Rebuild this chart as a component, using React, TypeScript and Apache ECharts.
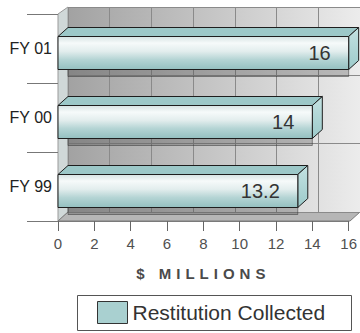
import React, { useEffect, useRef } from "react";
import * as echarts from "echarts";

// Fiscal years, bottom to top, and the amount collected in each ($ millions)
const categories = ["FY 99", "FY 00", "FY 01"];
const restitution = [13.2, 14, 16];
const seriesName = "Restitution Collected";
const axisTitle = "$ MILLIONS";

// value axis range
const xMin = 0;
const xMax = 16;
const xStep = 2;
// the back wall is ruled in seven panels
const wallMax = 14;

const FONT = "'Liberation Sans', Arial, Helvetica, sans-serif";
const DX = 10; // depth offset of the 3D box, horizontal
const DY = 9; // depth offset of the 3D box, vertical

export default function App() {
  const ref = useRef<HTMLDivElement>(null);

  useEffect(() => {
    const el = ref.current!;
    const chart = echarts.init(el, null, { renderer: "svg" });

    const frontFill = new echarts.graphic.LinearGradient(0, 0, 0, 1, [
      { offset: 0, color: "#d6e3e3" },
      { offset: 0.2, color: "#f6fafa" },
      { offset: 0.45, color: "#e2eded" },
      { offset: 0.7, color: "#b4d4d4" },
      { offset: 1, color: "#94c0c0" },
    ]);
    const sideFill = new echarts.graphic.LinearGradient(0, 0, 0, 1, [
      { offset: 0, color: "#c4e2e2" },
      { offset: 1, color: "#9ccaca" },
    ]);
    const wallFill = new echarts.graphic.LinearGradient(0, 0, 1, 0, [
      { offset: 0, color: "#a2a2a2" },
      { offset: 0.5, color: "#c6c6c6" },
      { offset: 1, color: "#ececec" },
    ]);

    const renderBar = (params: any, api: any) => {
      const v = api.value(0);
      const idx = api.value(1);
      const start = api.coord([xMin, idx]);
      const end = api.coord([v, idx]);
      const x0 = start[0];
      const x1 = end[0];
      const cy = end[1];
      const top = cy - 12;
      const bottom = cy + 21;
      const stroke = "#1e1e1e";
      return {
        type: "group",
        children: [
          {
            type: "rect",
            shape: { x: x0 + DX, y: top + 7, width: x1 - x0 - DX, height: bottom - top },
            style: { fill: "rgba(60,60,60,0.28)", stroke: "rgba(50,50,50,0.5)", lineWidth: 1 },
          },
          {
            type: "polygon",
            shape: {
              points: [
                [x0, top],
                [x0 + DX, top - DY],
                [x1 + DX, top - DY],
                [x1, top],
              ],
            },
            style: { fill: "#9cc8c8", stroke, lineWidth: 1 },
          },
          {
            type: "polygon",
            shape: {
              points: [
                [x1, top],
                [x1 + DX, top - DY],
                [x1 + DX, bottom - DY],
                [x1, bottom],
              ],
            },
            style: { fill: sideFill, stroke, lineWidth: 1 },
          },
          {
            type: "rect",
            shape: { x: x0, y: top, width: x1 - x0, height: bottom - top },
            style: { fill: frontFill, stroke, lineWidth: 1 },
          },
          {
            type: "text",
            x: x1 - 18,
            y: (top + bottom) / 2,
            style: {
              text: String(v),
              align: "right",
              verticalAlign: "middle",
              fontFamily: FONT,
              fontSize: 20,
              fill: "#333333",
            },
          },
        ],
      };
    };

    chart.setOption({
      animation: false,
      backgroundColor: "#ffffff",
      grid: [
        { left: 58, right: 10, top: 14, bottom: 112 },
        {
          left: 68,
          top: 7,
          width: 292,
          height: 205,
          show: true,
          backgroundColor: wallFill,
          borderWidth: 0,
        },
      ],
      xAxis: [
        {
          type: "value",
          gridIndex: 0,
          min: xMin,
          max: xMax,
          interval: xStep,
          splitLine: { show: false },
          axisLine: { show: true, lineStyle: { color: "#7a7a7a" } },
          axisTick: { show: true, length: 10, lineStyle: { color: "#666666" } },
          axisLabel: { margin: 15, fontFamily: FONT, fontSize: 15, color: "#505050" },
          name: axisTitle,
          nameLocation: "middle",
          nameGap: 45,
          nameTextStyle: {
            fontFamily: FONT,
            fontSize: 15,
            fontWeight: "bold",
            color: "#4a4a4a",
          },
        },
        {
          type: "value",
          gridIndex: 1,
          min: 0,
          max: wallMax,
          interval: xStep,
          axisLine: { show: false },
          axisTick: { show: false },
          axisLabel: { show: false },
          splitLine: { show: true, lineStyle: { color: "#8a8a8a", width: 1 } },
        },
      ],
      yAxis: [
        {
          type: "category",
          gridIndex: 0,
          data: categories,
          axisLine: { show: false },
          axisTick: { show: true, length: 31, lineStyle: { color: "#777777" } },
          axisLabel: { margin: 6, fontFamily: FONT, fontSize: 16, color: "#222222" },
        },
        {
          type: "category",
          gridIndex: 1,
          data: categories,
          axisLine: { show: false },
          axisTick: { show: false },
          axisLabel: { show: false },
          splitLine: { show: true, lineStyle: { color: "#8a8a8a", width: 1 } },
        },
      ],
      legend: {
        left: 97,
        top: 301,
        padding: 0,
        itemWidth: 30,
        itemHeight: 22,
        itemGap: 5,
        data: [
          {
            name: seriesName,
            icon: "rect",
            itemStyle: { color: "#a9d0d0", borderColor: "#333333", borderWidth: 1 },
          },
        ],
        textStyle: { fontFamily: FONT, fontSize: 21, color: "#333333" },
      },
      graphic: [
        {
          // left side wall
          type: "polygon",
          z: -10,
          shape: {
            points: [
              [58, 14],
              [68, 7],
              [68, 212],
              [58, 221],
            ],
          },
          style: { fill: "#d0d8d8", stroke: "#9a9a9a", lineWidth: 1 },
        },
        {
          // floor
          type: "polygon",
          z: -10,
          shape: {
            points: [
              [58, 221],
              [68, 212],
              [360, 212],
              [350, 221],
            ],
          },
          style: { fill: "#b6b6b6", stroke: "#7c7c7c", lineWidth: 1 },
        },
        {
          // legend frame
          type: "rect",
          z: -10,
          shape: { x: 77.5, y: 295.5, width: 274, height: 35 },
          style: { fill: "#ffffff", stroke: "#555555", lineWidth: 1 },
        },
      ],
      series: [
        {
          type: "custom",
          name: seriesName,
          xAxisIndex: 0,
          yAxisIndex: 0,
          z: 5,
          itemStyle: { color: "#a9d0d0" },
          renderItem: renderBar,
          encode: { x: 0, y: 1 },
          data: restitution.map((v, i) => [v, i]),
        },
      ],
    });

    // spread out the letters of the axis title
    el.querySelectorAll("text").forEach((t) => {
      if (t.textContent === axisTitle) {
        (t as SVGTextElement).style.letterSpacing = "5px";
      }
    });

    return () => chart.dispose();
  }, []);

  return (
    <div
      ref={ref}
      style={{ position: "absolute", left: 0, top: 0, width: 360, height: 333 }}
    />
  );
}
